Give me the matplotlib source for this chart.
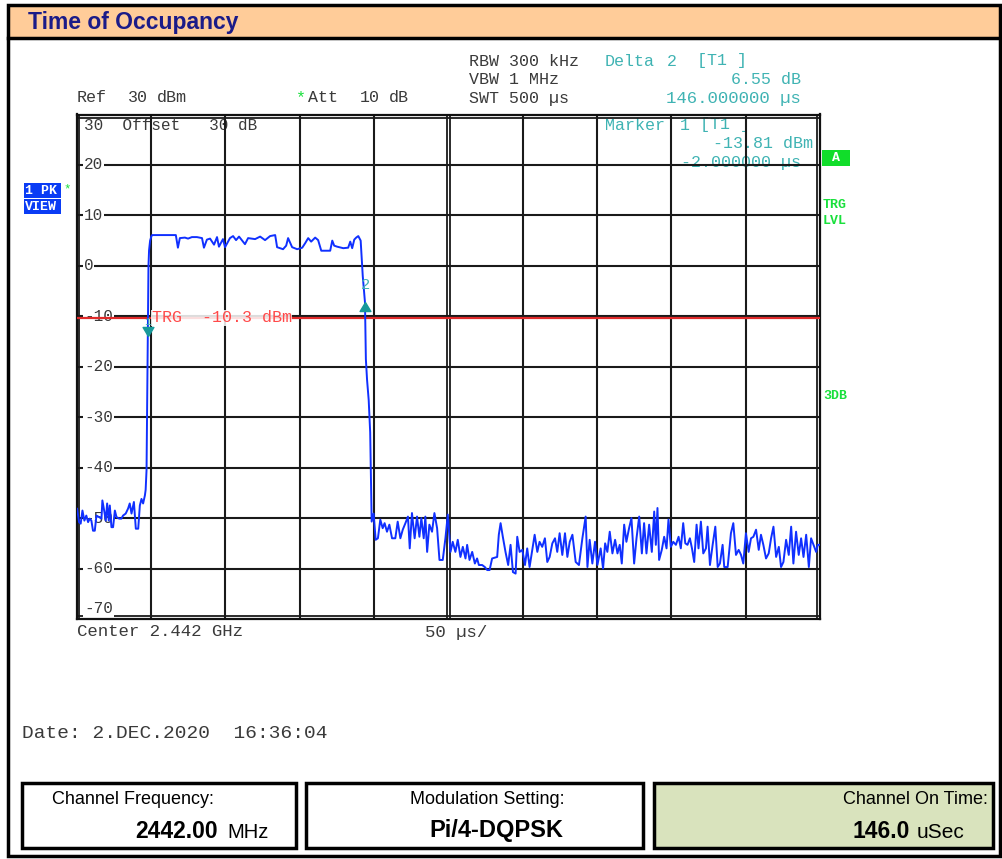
import matplotlib
matplotlib.use('Agg')
import matplotlib.pyplot as plt
from matplotlib.patches import Rectangle
from matplotlib.path import Path

W, H = 1002, 859
MONO = 'Liberation Mono'
plt.rcParams['font.family'] = 'Liberation Sans'

# Sweep trace: time in us relative to the trigger, level in dBm
noise_pre_t = [-50.0, -49.6, -48.3, -47.2, -46.0, -44.7, -43.4, -42.2, -41.1, -40.0,
               -38.9, -37.7, -36.6, -34.8, -33.2, -32.6, -31.4, -30.3, -29.4, -28.3,
               -27.6, -26.5, -25.4, -24.2, -23.1, -21.3, -19.8, -18.7, -16.9, -15.3,
               -14.2, -13.0, -11.4, -10.1, -8.5, -7.4, -6.3, -5.2, -4.0]
noise_pre_db = [-49.0, -48.1, -50.8, -51.1, -48.5, -50.5, -49.5, -50.8, -50.1, -50.5,
                -52.5, -52.5, -49.5, -49.8, -50.1, -46.5, -48.5, -50.5, -47.1, -50.5,
                -47.5, -51.8, -51.8, -48.5, -49.8, -50.1, -50.1, -49.5, -49.1, -48.1,
                -47.1, -49.1, -46.8, -52.1, -52.1, -47.5, -46.2, -47.1, -45.5]

burst_t = [-3.5, -2.9, -2.0, -1.6, -1.2, -0.5, 0.5, 1.0, 16.8, 18.2,
           19.5, 22.9, 25.0, 27.6, 31.0, 34.4, 35.7, 37.7, 39.8, 42.5,
           44.5, 45.8, 48.5, 49.9, 53.2, 55.3, 57.3, 59.3, 63.3, 65.4,
           70.1, 73.5, 76.8, 80.2, 83.6, 84.9, 88.9, 91.0, 92.3, 95.0,
           98.4, 101.8, 103.8, 105.8, 107.8, 110.5, 112.5, 114.6, 120.6, 122.0,
           123.3, 125.3, 129.4, 132.7, 134.1, 135.4, 136.8, 138.1, 139.5, 141.1,
           142.5, 144.0, 144.6, 145.4, 146.5, 147.5, 147.9, 148.5]
burst_db = [-44.4, -40.5, -13.81, 0.0, 3.1, 5.0, 6.0, 6.1, 6.1, 3.6,
            5.5, 5.6, 5.4, 5.7, 5.7, 5.5, 3.6, 5.2, 5.4, 4.2,
            5.7, 3.8, 5.3, 3.7, 5.5, 5.9, 5.1, 5.8, 4.3, 5.5,
            5.3, 5.8, 5.1, 5.9, 6.1, 3.7, 3.3, 4.0, 5.5, 3.7,
            3.3, 3.6, 4.5, 5.5, 4.8, 5.6, 5.1, 3.0, 3.0, 5.0,
            4.0, 3.8, 3.5, 3.6, 4.8, 3.5, 5.2, 5.6, 5.9, 5.0,
            -2.0, -7.26, -18.5, -22.6, -26.6, -33.0, -40.0, -50.7]

noise_post_t = [149.8, 151.2, 152.7, 154.3, 155.9, 157.2, 158.8, 160.4, 162.2, 164.4,
                166.0, 167.8, 169.4, 171.2, 172.9, 174.1, 175.6, 177.4, 179.0, 180.6,
                181.9, 183.5, 184.6, 185.8, 187.3, 189.1, 190.7, 192.5, 194.1, 196.3,
                198.1, 199.7, 201.5, 203.0, 204.8, 206.4, 208.2, 209.8, 211.6, 212.7,
                214.3, 216.1, 217.9, 219.4, 220.6, 222.8, 224.6, 226.2, 227.8, 229.5,
                232.9, 234.0, 235.2, 236.7, 238.5, 240.3, 241.9, 243.5, 245.3, 246.4,
                248.0, 249.8, 251.6, 253.1, 254.7, 256.5, 258.1, 259.9, 261.4, 263.2,
                265.0, 266.6, 268.2, 270.0, 271.8, 273.3, 274.9, 276.7, 278.5, 280.1,
                281.7, 283.5, 285.7, 287.9, 290.2, 292.4, 293.6, 295.1, 296.9, 298.7,
                300.3, 302.5, 304.1, 305.5, 307.0, 308.6, 310.4, 312.2, 313.8, 315.3,
                316.7, 318.3, 319.8, 321.6, 323.2, 325.0, 326.6, 328.4, 330.2, 331.7,
                333.3, 335.1, 336.9, 338.5, 339.6, 340.7, 341.8, 343.6, 345.2, 346.8,
                348.1, 349.7, 351.3, 353.1, 354.9, 356.4, 358.0, 359.4, 360.9, 362.5,
                363.9, 365.4, 367.0, 368.3, 369.9, 371.5, 373.3, 374.4, 376.0, 377.8,
                379.6, 381.2, 382.7, 384.5, 385.6, 387.9, 390.1, 391.7, 393.5, 395.3,
                396.9, 398.4, 400.2, 402.0, 403.6, 405.2, 407.0, 408.8, 410.3, 411.9,
                413.7, 415.5, 417.1, 418.7, 420.5, 422.3, 423.8, 425.4, 427.2, 429.0,
                430.6, 432.1, 433.9, 435.7, 437.3, 438.9, 440.7, 442.5, 444.0, 445.6,
                447.4, 448.5, 450.0]
noise_post_db = [-49.1, -54.3, -54.0, -50.3, -52.0, -51.0, -52.7, -51.3, -54.0, -54.0,
                 -50.7, -54.0, -52.3, -51.0, -49.7, -56.0, -49.0, -54.0, -49.7, -53.7,
                 -50.0, -54.0, -49.7, -56.7, -51.3, -52.7, -49.0, -52.0, -58.3, -58.3,
                 -54.0, -49.3, -56.7, -54.7, -56.7, -54.3, -57.7, -55.7, -58.0, -55.3,
                 -58.3, -56.7, -59.0, -58.0, -59.3, -59.3, -59.7, -60.3, -60.3, -58.0,
                 -57.7, -53.3, -51.0, -53.7, -56.7, -59.3, -55.3, -60.7, -61.0, -53.7,
                 -56.7, -56.3, -59.3, -56.0, -59.7, -56.3, -53.3, -56.7, -54.7, -55.7,
                 -54.0, -58.7, -57.7, -55.0, -54.0, -56.7, -53.0, -57.3, -53.0, -57.7,
                 -54.7, -53.3, -58.7, -59.3, -54.0, -49.7, -59.7, -54.3, -59.0, -54.7,
                 -59.3, -56.0, -60.0, -55.0, -56.7, -52.7, -57.0, -54.3, -57.0, -55.3,
                 -59.0, -51.3, -54.7, -52.0, -50.0, -59.0, -54.0, -49.7, -57.0, -51.0,
                 -57.0, -51.3, -56.7, -48.7, -55.3, -48.0, -58.3, -56.3, -53.7, -56.0,
                 -50.3, -55.7, -54.7, -55.3, -53.7, -56.0, -51.0, -55.0, -55.3, -54.0,
                 -56.0, -58.7, -51.3, -56.0, -50.7, -57.0, -56.0, -51.7, -59.3, -55.3,
                 -51.7, -59.7, -59.0, -55.3, -59.7, -59.7, -53.0, -51.0, -57.3, -56.3,
                 -57.3, -59.0, -53.0, -56.7, -54.0, -53.7, -52.3, -56.3, -53.3, -55.3,
                 -58.0, -57.0, -54.0, -51.7, -57.7, -55.7, -59.7, -58.7, -54.3, -57.3,
                 -51.7, -59.0, -52.7, -57.3, -54.0, -57.7, -53.3, -59.7, -54.0, -55.3,
                 -56.7, -55.3, -55.3]

marker1_t, marker1_db = -2.0, -13.81
delta2_t, delta2_db = 146.0, 6.55
trigger_db = -10.3

level_lines = [20, 10, 0, -10, -20, -30, -40, -50, -60]
time_lines = [0, 50, 100, 150, 250, 300, 350, 400]

TRACE = '#1030ff'
TEAL = '#3fb3b3'
MARK = '#17999a'
GREEN = '#19e03c'
INK = '#3a3a3a'


def px(x, y):
    return x / W, 1 - y / H


def ftext(x, y, s, **kw):
    kw.setdefault('va', 'center')
    fig.text(*px(x, y), s, **kw)


def frect(x0, y0, x1, y1, **kw):
    fig.add_artist(Rectangle(px(x0, y1), (x1 - x0) / W, (y1 - y0) / H,
                             transform=fig.transFigure, **kw))


fig = plt.figure(figsize=(W / 100, H / 100), dpi=100)
fig.patch.set_facecolor('white')

# page frame and title band
frect(8, 5, 1000, 38, facecolor='#ffcc99', edgecolor='none')
frect(8, 5, 1000, 856, facecolor='none', edgecolor='black', lw=2.5)
fig.add_artist(plt.Line2D([8 / W, 1000 / W], [1 - 38 / H] * 2, color='black', lw=2.5,
                          transform=fig.transFigure))
ftext(28, 22, 'Time of Occupancy', fontsize=16.5, fontweight='bold', color='#1b1b88')

# screen area
ax = fig.add_axes([76.5 / W, 1 - 619 / H, (820 - 76.5) / W, (619 - 114.5) / H])
ax.set_xlim(-50, 450)
ax.set_ylim(-70, 30)
ax.set_xticks([])
ax.set_yticks([])
for s in ax.spines.values():
    s.set_linewidth(1.6)
    s.set_color('#111111')

for v in level_lines:
    ax.axhline(v, color='#1a1a1a', lw=1.5, zorder=2)
for t in time_lines:
    ax.axvline(t, color='#1a1a1a', lw=1.5, zorder=2)
# doubled centre line and inner frame
for t in (199.0, 201.0, -48.0, 448.0):
    ax.axvline(t, color='#1a1a1a', lw=1.3, zorder=2)
for v in (29.4, -69.4):
    ax.axhline(v, color='#1a1a1a', lw=1.3, zorder=2)

lab = dict(fontsize=11.5, family=MONO, color=INK, va='center', ha='left')
for v in level_lines:
    ax.text(-45.0, v, str(v), zorder=3,
            bbox=dict(facecolor='white', edgecolor='none', pad=0.6), **lab)
ax.text(-45.0, -67.9, '-70', zorder=3,
        bbox=dict(facecolor='white', edgecolor='none', pad=0.6), **lab)
ax.text(-45.0, 27.9, '30  Offset   30 dB', zorder=1, **lab)

# trigger level
ax.axhline(trigger_db, color='#e02a2a', lw=1.6, zorder=4)
ax.text(0.5, trigger_db, 'TRG  %.1f dBm' % trigger_db, fontsize=12, family=MONO,
        color='#ff4a4a', va='center', ha='left', zorder=4.5,
        bbox=dict(facecolor='white', edgecolor='none', pad=0.3, alpha=0.85))

ax.plot(noise_pre_t + burst_t + noise_post_t, noise_pre_db + burst_db + noise_post_db,
        color=TRACE, lw=1.4, zorder=5)

# markers: apex of the triangle sits on the trace point
tri_down = Path([(0, 0), (-0.6, 1.0), (0.6, 1.0), (0, 0)])
tri_up = Path([(0, 0), (-0.6, -1.0), (0.6, -1.0), (0, 0)])
m2_t = marker1_t + delta2_t
m2_db = marker1_db + delta2_db
ax.plot([marker1_t], [marker1_db], marker=tri_down, ms=13, color=MARK, zorder=6)
ax.plot([m2_t], [m2_db], marker=tri_up, ms=13, color=MARK, zorder=6)
ax.text(marker1_t, marker1_db + 2.6, '1', fontsize=8, family=MONO, color=TEAL,
        ha='center', va='center', zorder=6)
ax.text(m2_t, m2_db + 3.5, '2', fontsize=11, family=MONO, color=TEAL,
        ha='center', va='center', zorder=6)

# marker readout inside the screen
mono = dict(family=MONO, fontsize=12)
for x, s in ((605, 'Marker'), (680, '1'), (700, '[T1 ]')):
    ax.text(*px(x, 125), s, transform=fig.transFigure, color=TEAL, va='center',
            zorder=1, **mono)
ax.text(*px(813, 143), '%.2f dBm' % marker1_db, transform=fig.transFigure, color=TEAL,
        va='center', ha='right', zorder=1, **mono)
ax.text(*px(801, 162), '%.6f µs' % marker1_t, transform=fig.transFigure, color=TEAL,
        va='center', ha='right', zorder=1, **mono)

# header settings
ftext(469, 61, 'RBW 300 kHz', color=INK, **mono)
ftext(469, 80, 'VBW 1 MHz', color=INK, **mono)
ftext(469, 98, 'SWT 500 µs', color=INK, **mono)
for x, s in ((77, 'Ref'), (128, '30'), (157, 'dBm'), (308, 'Att'), (360, '10'), (389, 'dB')):
    ftext(x, 98, s, color=INK, **mono)
ftext(296, 98, '*', color=GREEN, **mono)
for x, s in ((605, 'Delta'), (667, '2'), (697, '[T1 ]')):
    ftext(x, 61, s, color=TEAL, **mono)
ftext(801, 80, '%.2f dB' % delta2_db, color=TEAL, ha='right', **mono)
ftext(801, 98, '%.6f µs' % delta2_t, color=TEAL, ha='right', family=MONO, fontsize=12.5)

# trace and side annotations
frect(24, 183, 61, 198, facecolor='#0a3cf5', edgecolor='none')
frect(24, 199, 61, 214, facecolor='#0a3cf5', edgecolor='none')
side = dict(family=MONO, fontsize=9.5, fontweight='bold')
ftext(25, 191, '1 PK', color='white', **side)
ftext(25, 207, 'VIEW', color='white', **side)
ftext(63, 189, '*', color=GREEN, family=MONO, fontsize=9)
frect(822, 150, 850, 166, facecolor='#11dd2a', edgecolor='none')
ftext(836, 158, 'A', color='white', ha='center', **side)
ftext(823, 205, 'TRG', color=GREEN, **side)
ftext(823, 221, 'LVL', color=GREEN, **side)
ftext(823, 396, '3DB', color=GREEN, **side)

ftext(77, 632, 'Center 2.442 GHz', color=INK, family=MONO, fontsize=12.5)
ftext(425, 632, '50 µs/', color=INK, family=MONO, fontsize=12.5)
ftext(22, 733, 'Date: 2.DEC.2020  16:36:04', color=INK, family=MONO, fontsize=14)

# summary boxes
frect(22, 783, 296, 848, facecolor='white', edgecolor='black', lw=2.5)
frect(306, 783, 643, 848, facecolor='white', edgecolor='black', lw=2.5)
frect(654, 783, 993, 848, facecolor='#d9e3bd', edgecolor='black', lw=2.5)

ftext(52, 799, 'Channel Frequency:', fontsize=13)
ftext(218, 832, '2442.00', fontsize=16.5, fontweight='bold', ha='right')
ftext(227, 832, 'MHz', fontsize=14.5)
ftext(487, 799, 'Modulation Setting:', fontsize=13, ha='center')
ftext(496, 831, 'Pi/4-DQPSK', fontsize=17, fontweight='bold', ha='center')
ftext(988, 799, 'Channel On Time:', fontsize=13, ha='right')
ftext(910, 832, '146.0', fontsize=16.5, fontweight='bold', ha='right')
ftext(917, 832, 'uSec', fontsize=15)

fig.savefig('out.png', dpi=100)
